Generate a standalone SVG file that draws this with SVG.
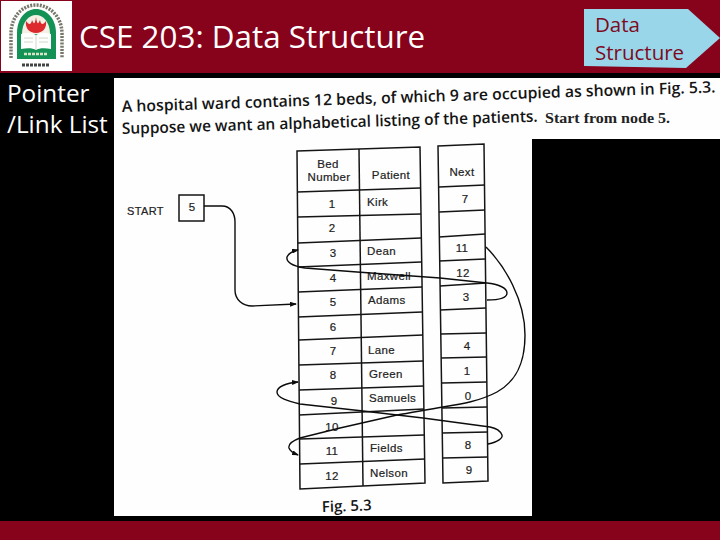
<svg xmlns="http://www.w3.org/2000/svg" width="720" height="540" viewBox="0 0 720 540">
<style>
.tl{stroke:#151515;stroke-width:1.5;fill:none}
.c{stroke:#0c0c0c;stroke-width:1.4;fill:none}
.t{font-family:"Liberation Sans",Arial,sans-serif;font-size:11.5px;letter-spacing:.35px;fill:#222;stroke:#222;stroke-width:.2px}
.m{text-anchor:middle}
.b{font-family:"Open Sans",sans-serif;font-weight:600;fill:#141414}
.w{font-family:"Open Sans",sans-serif;fill:#fff}
.d{font-family:"Open Sans",sans-serif;fill:#7d0a20;font-size:20.5px}
</style>
<defs>
<marker id="ah" markerWidth="7" markerHeight="5" refX="6" refY="2.5" orient="auto" markerUnits="userSpaceOnUse"><path d="M0 0L7 2.5L0 5Z" fill="#0c0c0c"/></marker>
</defs>
<rect width="720" height="540" fill="#000"/>
<rect width="720" height="73" fill="#87021b"/>
<rect y="521" width="720" height="19" fill="#87021b"/>
<g id="logo">
<rect x="1" y="1" width="71" height="70" fill="#fff"/>
<path d="M11 58V34C11 15 24 5 36 5S62 15 62 34V58" fill="none" stroke="#77776a" stroke-width="3.5" stroke-dasharray="2 1.2"/>
<path d="M17 59V33C17 18 26 9 36 9S56 18 56 33V59Z" fill="#149255"/>
<path d="M22 34C22 22 29 15 36 15S50 22 50 34Z" fill="#f4f0e6"/>
<path d="M26 21C29 25 31 25 32 20C34 25 35 24 36 17C37 24 38 25 40 20C41 25 43 25 46 21C47 28 43 33 36 33S25 28 26 21Z" fill="#dc2a2f"/>
<path d="M21 34C27 32 33 33 36 35C39 33 45 32 51 34V49C45 48 39 48 36 50C33 48 27 48 21 49Z" fill="#fff"/>
<path d="M36 35V50M24 38H33M24 42H33M39 38H48M39 42H48" stroke="#cfd8c8" stroke-width="1"/>
<path d="M24 54H48" stroke="#d8e6c8" stroke-width="2.5" stroke-dasharray="3 1"/>
<path d="M22 65H50" stroke="#444" stroke-width="3" stroke-dasharray="3 1"/>
</g>
<text id="title" class="w" x="79" y="48" font-size="31.4">CSE 203: Data Structure</text>
<text class="w" x="7" y="102" font-size="24.3">Pointer</text>
<text class="w" x="7" y="133" font-size="24.3">/Link List</text>
<g id="badge">
<path d="M584 9H688L720 38L686 68L584 66Z" fill="#9ad6ea"/>
<text class="d" x="595" y="32">Data</text>
<text class="d" x="595" y="60">Structure</text>
</g>
<path d="M114 78H720V139H532V516H114Z" fill="#fefefe"/>
<text class="b" font-size="15.8" textLength="594" lengthAdjust="spacingAndGlyphs" transform="translate(122 112) rotate(-1.9)">A hospital ward contains 12 beds, of which 9 are occupied as shown in Fig. 5.3.</text>
<text class="b" font-size="15.8" textLength="416" lengthAdjust="spacingAndGlyphs" transform="translate(122 134) rotate(-1.7)">Suppose we want an alphabetical listing of the patients.</text>
<text font-family="Liberation Serif,serif" font-weight="700" fill="#222" font-size="14.5" textLength="125" lengthAdjust="spacingAndGlyphs" x="545" y="122.500">Start from node 5.</text>
<text class="b" font-size="15" font-weight="700" transform="translate(322 512) rotate(-2)">Fig. 5.3</text>
<g id="start">
<rect x="179" y="195" width="25" height="26" class="tl"/>
<text class="t m" x="192" y="211">5</text>
<text class="t" x="127" y="215" style="font-size:11px">START</text>
</g>
<g id="bed-table">
<path class="tl" d="M297 151L420 147L425 483L300 489Z"/>
<path class="tl" d="M359 149L363 486"/>
<path class="tl" d="M297 192L420 188M298 217L421 214M298 243L421 238M298 267L421 262M298 292L422 287M298 317L422 312M299 340L423 335M299 365L423 361M299 390L424 386M299 415L424 409M300 439L424 435M300 464L425 459"/>
<text class="t m" x="328" y="168">Bed</text>
<text class="t m" x="329" y="181">Number</text>
<text class="t m" x="391" y="179">Patient</text>
<text class="t m" x="332" y="208">1</text><text class="t" x="367" y="206">Kirk</text>
<text class="t m" x="332" y="232">2</text>
<text class="t m" x="333" y="257">3</text><text class="t" x="367" y="255">Dean</text>
<text class="t m" x="333" y="282">4</text><text class="t" x="367" y="280">Maxwell</text>
<text class="t m" x="333" y="306">5</text><text class="t" x="368" y="304">Adams</text>
<text class="t m" x="333" y="331">6</text>
<text class="t m" x="333" y="355">7</text><text class="t" x="368" y="354">Lane</text>
<text class="t m" x="333" y="379">8</text><text class="t" x="369" y="378">Green</text>
<text class="t m" x="334" y="405">9</text><text class="t" x="369" y="402">Samuels</text>
<text class="t m" x="332" y="431">10</text>
<text class="t m" x="332" y="455">11</text><text class="t" x="370" y="452">Fields</text>
<text class="t m" x="332" y="480">12</text><text class="t" x="370" y="477">Nelson</text>
</g>
<g id="next-table">
<path class="tl" d="M438 146L484 144L488 481L443 483Z"/>
<path class="tl" d="M439 187L485 185M439 212L485 210M439 237L485 234M439 261L485 259M440 286L486 283M440 310L486 308M441 334L486 333M441 358L487 357M442 383L487 382M442 408L487 407M442 433L488 432M443 458L488 457"/>
<text class="t m" x="462" y="176">Next</text>
<text class="t m" x="465" y="203">7</text>
<text class="t m" x="462" y="252">11</text>
<text class="t m" x="463" y="277">12</text>
<text class="t m" x="466" y="301">3</text>
<text class="t m" x="467" y="350">4</text>
<text class="t m" x="467" y="375">1</text>
<text class="t m" x="468" y="400">0</text>
<text class="t m" x="468" y="449">8</text>
<text class="t m" x="469" y="474">9</text>
</g>
<g id="connectors">
<path class="c" marker-end="url(#ah)" d="M204 206H222C231 206 235 214 235 222V290C235 300 243 306 252 306L296 304"/>
<path class="c" marker-end="url(#ah)" d="M487 300C500 300 507 298 507 293C507 288 498 284 487 283L440 278L357 272L305 268C292 266 286 262 287 257C289 253 293 251 298 250"/>
<path class="c" marker-end="url(#ah)" d="M486 247C505 266 525 300 525 335C525 365 515 382 497 392C480 401 462 404 443 407C425 410 410 413 397 415L340 428L300 438C292 441 288 444 289 448C290 451 293 453 298 455"/>
<path class="c" marker-end="url(#ah)" d="M488 444C498 442 503 438 502 435C500 430 495 428 490 427L423 418L363 411L300 404C288 401 277 398 277 392C277 387 286 383 298 382"/>
</g>
</svg>
